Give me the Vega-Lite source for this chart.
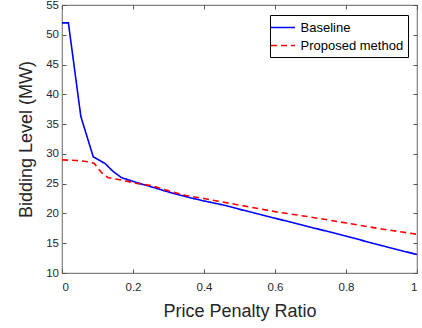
{
  "$schema": "https://vega.github.io/schema/vega-lite/v6.json",
  "width": 355,
  "height": 268,
  "autosize": {"type": "none"},
  "padding": {"left": 62, "top": 5, "right": 5, "bottom": 55},
  "config": {
    "view": {"stroke": "#808080", "strokeWidth": 1.2},
    "font": "Liberation Sans",
    "axis": {
      "grid": false,
      "domain": false,
      "tickColor": "#555555",
      "tickWidth": 1,
      "labelFont": "Liberation Sans",
      "labelFontSize": 11.5,
      "labelColor": "#262626",
      "titleFont": "Liberation Sans",
      "titleFontSize": 18,
      "titleFontWeight": "normal",
      "titleColor": "#262626"
    }
  },
  "data": {
    "values": [
      {"x": 0, "y": 52, "s": "Baseline"},
      {"x": 0.018, "y": 52, "s": "Baseline"},
      {"x": 0.053, "y": 36.3, "s": "Baseline"},
      {"x": 0.088, "y": 29.5, "s": "Baseline"},
      {"x": 0.121, "y": 28.4, "s": "Baseline"},
      {"x": 0.145, "y": 27.0, "s": "Baseline"},
      {"x": 0.168, "y": 26.0, "s": "Baseline"},
      {"x": 0.215, "y": 25.1, "s": "Baseline"},
      {"x": 0.25, "y": 24.5, "s": "Baseline"},
      {"x": 0.3, "y": 23.6, "s": "Baseline"},
      {"x": 0.35, "y": 22.8, "s": "Baseline"},
      {"x": 0.4, "y": 22.1, "s": "Baseline"},
      {"x": 0.46, "y": 21.35, "s": "Baseline"},
      {"x": 0.5, "y": 20.7, "s": "Baseline"},
      {"x": 0.6, "y": 19.2, "s": "Baseline"},
      {"x": 0.7, "y": 17.7, "s": "Baseline"},
      {"x": 0.8, "y": 16.2, "s": "Baseline"},
      {"x": 0.9, "y": 14.6, "s": "Baseline"},
      {"x": 1.0, "y": 13.1, "s": "Baseline"},
      {"x": 0, "y": 29.0, "s": "Proposed method"},
      {"x": 0.04, "y": 28.9, "s": "Proposed method"},
      {"x": 0.079, "y": 28.65, "s": "Proposed method"},
      {"x": 0.091, "y": 28.4, "s": "Proposed method"},
      {"x": 0.112, "y": 26.8, "s": "Proposed method"},
      {"x": 0.13, "y": 26.0, "s": "Proposed method"},
      {"x": 0.168, "y": 25.6, "s": "Proposed method"},
      {"x": 0.215, "y": 25.0, "s": "Proposed method"},
      {"x": 0.25, "y": 24.7, "s": "Proposed method"},
      {"x": 0.3, "y": 23.8, "s": "Proposed method"},
      {"x": 0.35, "y": 23.0, "s": "Proposed method"},
      {"x": 0.4, "y": 22.5, "s": "Proposed method"},
      {"x": 0.5, "y": 21.4, "s": "Proposed method"},
      {"x": 0.6, "y": 20.3, "s": "Proposed method"},
      {"x": 0.7, "y": 19.4, "s": "Proposed method"},
      {"x": 0.8, "y": 18.4, "s": "Proposed method"},
      {"x": 0.9, "y": 17.4, "s": "Proposed method"},
      {"x": 1.0, "y": 16.5, "s": "Proposed method"}
    ]
  },
  "layer": [
    {
      "mark": {"type": "line", "strokeWidth": 1.6, "clip": true},
      "encoding": {
        "x": {
          "field": "x", "type": "quantitative",
          "scale": {"domain": [0, 1], "nice": false},
          "axis": {"orient": "bottom", "values": [0, 0.2, 0.4, 0.6, 0.8, 1], "format": "~g", "ticks": false, "labelPadding": 8, "title": "Price Penalty Ratio", "titlePadding": 10}
        },
        "y": {
          "field": "y", "type": "quantitative",
          "scale": {"domain": [10, 55], "nice": false, "zero": false},
          "axis": {"orient": "left", "values": [10, 15, 20, 25, 30, 35, 40, 45, 50, 55], "ticks": false, "labelPadding": 3.5, "title": "Bidding Level (MW)", "titlePadding": 10}
        },
        "color": {
          "field": "s", "type": "nominal",
          "scale": {"domain": ["Baseline", "Proposed method"], "range": ["#0000ff", "#ff0000"]},
          "legend": {
            "title": null, "orient": "none", "legendX": 208, "legendY": 10,
            "strokeColor": "#000000", "fillColor": "#ffffff", "padding": 4,
            "symbolType": "M-1.6,0H1.6", "symbolSize": 225, "symbolStrokeWidth": 1.6, "symbolOffset": 0.5,
            "labelFont": "Liberation Sans", "labelFontSize": 13, "labelColor": "#000000",
            "labelOffset": 9, "rowPadding": 2
          }
        },
        "strokeDash": {
          "field": "s", "type": "nominal",
          "scale": {"domain": ["Baseline", "Proposed method"], "range": [[1, 0], [6, 4]]},
          "legend": {
            "title": null, "orient": "none", "legendX": 208, "legendY": 10,
            "strokeColor": "#000000", "fillColor": "#ffffff", "padding": 4,
            "symbolType": "M-1.6,0H1.6", "symbolSize": 225, "symbolStrokeWidth": 1.6, "symbolOffset": 0.5,
            "labelFont": "Liberation Sans", "labelFontSize": 13, "labelColor": "#000000",
            "labelOffset": 9, "rowPadding": 2
          }
        }
      }
    },
    {
      "mark": {"type": "point", "opacity": 0},
      "encoding": {
        "x": {
          "field": "x", "type": "quantitative",
          "axis": {"orient": "bottom", "offset": -4, "values": [0, 0.2, 0.4, 0.6, 0.8, 1], "tickSize": 4, "labels": false, "title": null}
        },
        "y": {
          "field": "y", "type": "quantitative",
          "axis": {"orient": "left", "offset": -4, "values": [10, 15, 20, 25, 30, 35, 40, 45, 50, 55], "tickSize": 4, "labels": false, "title": null}
        }
      }
    },
    {
      "mark": {"type": "point", "opacity": 0},
      "encoding": {
        "x": {
          "field": "x", "type": "quantitative",
          "axis": {"orient": "top", "offset": -4, "values": [0, 0.2, 0.4, 0.6, 0.8, 1], "tickSize": 4, "labels": false, "title": null}
        },
        "y": {
          "field": "y", "type": "quantitative",
          "axis": {"orient": "right", "offset": -4, "values": [10, 15, 20, 25, 30, 35, 40, 45, 50, 55], "tickSize": 4, "labels": false, "title": null}
        }
      }
    }
  ],
  "resolve": {"axis": {"x": "independent", "y": "independent"}}
}
